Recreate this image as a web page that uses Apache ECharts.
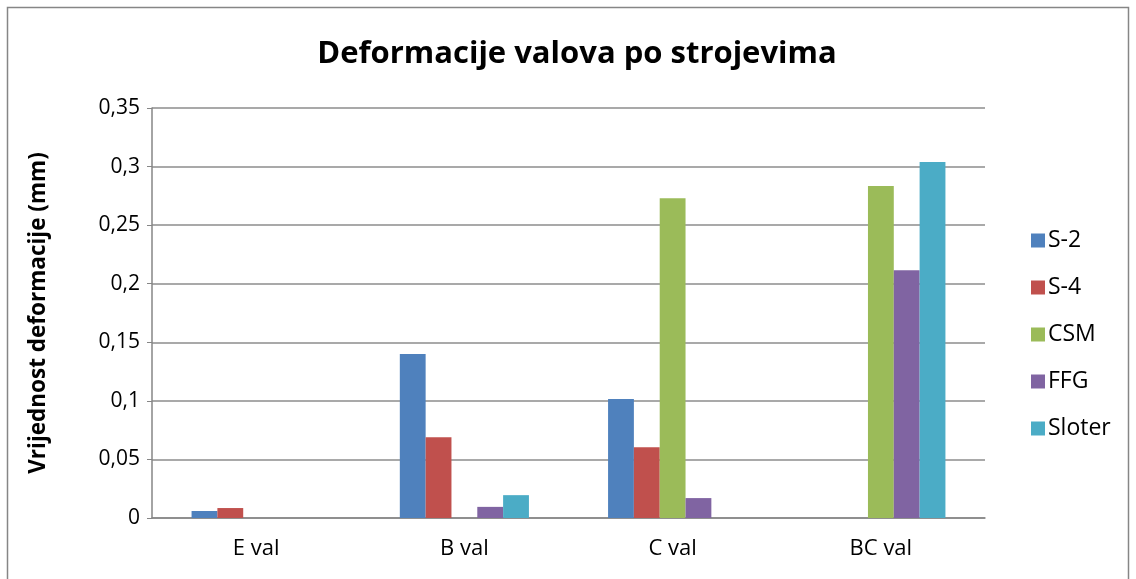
<!DOCTYPE html>
<html>
<head>
<meta charset="utf-8">
<script src="https://cdn.jsdelivr.net/npm/echarts@6/dist/echarts.min.js"></script>
<style>
  html, body { margin: 0; padding: 0; background: #fff; }
  #chart { width: 1136px; height: 579px; }
</style>
</head>
<body>
<div id="chart"></div>
<script>
// podaci očitani s grafa
const categories = ['E val', 'B val', 'C val', 'BC val'];
const seriesNames = ['S-2', 'S-4', 'CSM', 'FFG', 'Sloter'];
const s2 = [0.006, 0.14, 0.1015, 0];
const s4 = [0.0085, 0.069, 0.0605, 0];
const csm = [0, 0, 0.273, 0.2835];
const ffg = [0, 0.0095, 0.017, 0.2115];
const sloter = [0, 0.0195, 0, 0.304];
const yTicks = [0, 0.05, 0.1, 0.15, 0.2, 0.25, 0.3, 0.35];

const colors = ['#4F81BD', '#C0504D', '#9BBB59', '#8064A2', '#4BACC6'];
const values = [s2, s4, csm, ffg, sloter];
const font = '"Open Sans", "Liberation Sans", sans-serif';

const chart = echarts.init(document.getElementById('chart'));

chart.setOption({
  animation: false,
  color: colors,
  textStyle: { fontFamily: font },
  title: {
    text: 'Deformacije valova po strojevima',
    left: 572,
    top: 34,
    textAlign: 'center',
    textStyle: { fontSize: 31, fontWeight: 'bold', color: '#000', fontFamily: font }
  },
  legend: {
    orient: 'vertical',
    left: 1026,
    top: 224,
    itemWidth: 14,
    itemHeight: 14,
    itemGap: 24,
    icon: 'rect',
    data: seriesNames,
    textStyle: { fontSize: 23, color: '#000', fontFamily: font, padding: [0, 0, 0, -2] }
  },
  grid: { left: 152, right: 151, top: 108, bottom: 61 },
  xAxis: {
    type: 'category',
    data: categories,
    axisLine: { lineStyle: { color: '#868686', width: 1.5 } },
    axisTick: { show: false },
    axisLabel: { fontSize: 22, color: '#000', margin: 20, fontFamily: font }
  },
  yAxis: {
    type: 'value',
    min: 0,
    max: yTicks[yTicks.length - 1],
    interval: 0.05,
    name: 'Vrijednost deformacije (mm)',
    nameLocation: 'middle',
    nameGap: 102,
    nameTextStyle: { fontSize: 22.5, fontWeight: 'bold', color: '#000', fontFamily: font },
    axisLine: { show: true, lineStyle: { color: '#868686', width: 1.5 } },
    axisTick: { show: true, inside: false, length: 5, lineStyle: { color: '#868686' } },
    splitLine: { lineStyle: { color: '#8c8c8c', width: 1.5 } },
    axisLabel: {
      fontSize: 21,
      color: '#000',
      margin: 12,
      fontFamily: font,
      formatter: v => String(Math.round(v * 100) / 100).replace('.', ',')
    }
  },
  graphic: [{
    type: 'rect',
    shape: { x: 7.5, y: 7.5, width: 1121, height: 600 },
    style: { fill: 'none', stroke: '#868686', lineWidth: 1.5 },
    silent: true
  }],
  series: seriesNames.map((name, i) => ({
    name: name,
    type: 'bar',
    data: values[i],
    barGap: '0%',
    barCategoryGap: '38%',
    itemStyle: { color: colors[i] }
  }))
});
</script>
</body>
</html>
